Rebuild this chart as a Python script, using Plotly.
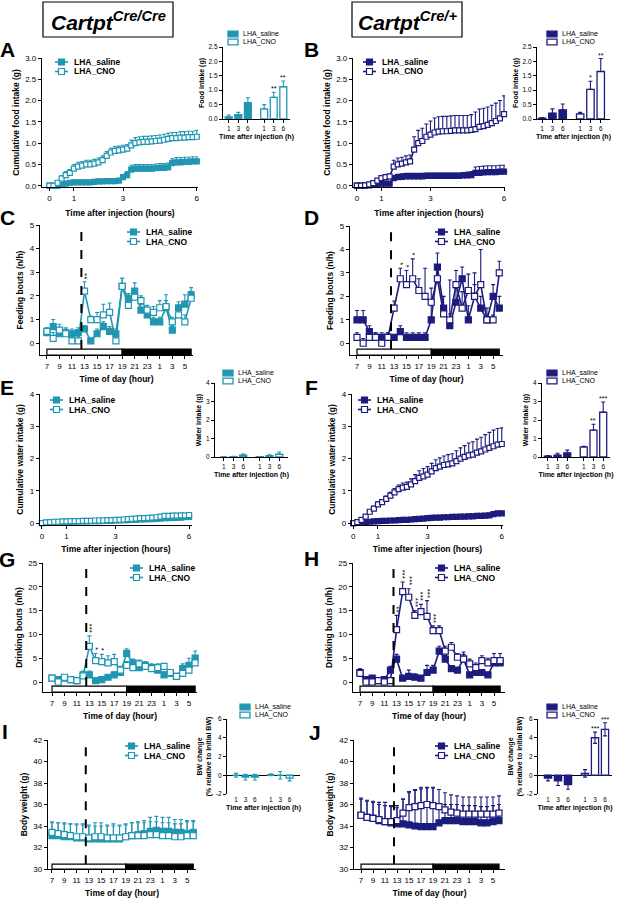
import plotly.graph_objects as go

W, H = 617, 899
TEAL = "#2196b2"
NAVY = "#1c1b7e"
FONT = "Arial, Liberation Sans, sans-serif"

# ---------------- data ----------------
# cumulative intake, sampled every 10 min for 6 h
cum_time = [i / 6 for i in range(37)]
cum_ticks = [0, 1, 3, 6]

A_sal = [0, 0, 0, 0.02, 0.05, 0.07, 0.08, 0.08, 0.08, 0.08,
         0.08, 0.09, 0.1, 0.1, 0.11, 0.11, 0.11, 0.12, 0.2, 0.25,
         0.38, 0.4, 0.4, 0.4, 0.4, 0.4, 0.41, 0.42, 0.42, 0.43,
         0.53, 0.55, 0.55, 0.56, 0.56, 0.57, 0.57]
A_sal_err = [0, 0, 0, 0.01, 0.02, 0.02, 0.03, 0.03, 0.03, 0.03,
             0.03, 0.03, 0.03, 0.03, 0.03, 0.03, 0.03, 0.04, 0.06, 0.08,
             0.1, 0.1, 0.1, 0.1, 0.1, 0.1, 0.1, 0.1, 0.1, 0.1,
             0.1, 0.11, 0.11, 0.11, 0.11, 0.11, 0.11]
A_cno = [0, 0, 0.07, 0.17, 0.25, 0.3, 0.4, 0.45, 0.47, 0.5,
         0.5, 0.52, 0.55, 0.6, 0.7, 0.78, 0.82, 0.83, 0.85, 0.87,
         0.95, 1.0, 1.02, 1.03, 1.03, 1.04, 1.05, 1.06, 1.08, 1.1,
         1.12, 1.12, 1.13, 1.13, 1.14, 1.14, 1.15]
A_cno_err = [0, 0.03, 0.05, 0.07, 0.08, 0.08, 0.1, 0.1, 0.1, 0.1,
             0.1, 0.1, 0.1, 0.1, 0.1, 0.1, 0.1, 0.1, 0.1, 0.1,
             0.12, 0.13, 0.13, 0.13, 0.13, 0.13, 0.13, 0.13, 0.13, 0.13,
             0.13, 0.13, 0.14, 0.14, 0.14, 0.14, 0.15]

B_sal = [0, 0, 0, 0.01, 0.02, 0.03, 0.05, 0.05, 0.05, 0.18,
         0.2, 0.21, 0.22, 0.22, 0.22, 0.22, 0.22, 0.23, 0.23, 0.23,
         0.23, 0.23, 0.23, 0.23, 0.23, 0.23, 0.24, 0.24, 0.25, 0.3,
         0.3, 0.31, 0.32, 0.32, 0.32, 0.33, 0.33]
B_sal_err = [0, 0, 0, 0.01, 0.01, 0.02, 0.03, 0.03, 0.03, 0.06,
             0.07, 0.07, 0.07, 0.07, 0.07, 0.07, 0.07, 0.07, 0.07, 0.07,
             0.07, 0.07, 0.07, 0.07, 0.07, 0.07, 0.07, 0.08, 0.08, 0.14,
             0.15, 0.15, 0.15, 0.15, 0.15, 0.15, 0.15]
B_cno = [0, 0, 0.01, 0.03, 0.06, 0.12, 0.18, 0.2, 0.22, 0.45,
         0.5, 0.52, 0.55, 0.57, 0.85, 1.0, 1.05, 1.15, 1.2, 1.25,
         1.27, 1.28, 1.28, 1.29, 1.3, 1.3, 1.3, 1.3, 1.31, 1.33,
         1.38, 1.4, 1.43, 1.47, 1.52, 1.58, 1.68]
B_cno_err = [0, 0, 0.01, 0.02, 0.03, 0.04, 0.05, 0.05, 0.05, 0.15,
             0.15, 0.15, 0.15, 0.15, 0.3, 0.3, 0.3, 0.3, 0.32, 0.34,
             0.35, 0.35, 0.35, 0.35, 0.35, 0.35, 0.35, 0.35, 0.36, 0.4,
             0.42, 0.42, 0.42, 0.42, 0.42, 0.42, 0.43]

E_sal = [0, 0.01, 0.02, 0.02, 0.03, 0.03, 0.04, 0.04, 0.04, 0.05,
         0.05, 0.05, 0.06, 0.06, 0.06, 0.07, 0.07, 0.07, 0.08, 0.08,
         0.09, 0.09, 0.1, 0.1, 0.11, 0.11, 0.12, 0.12, 0.13, 0.14,
         0.15, 0.15, 0.16, 0.16, 0.17, 0.18, 0.19]
E_sal_err = [0, 0.01, 0.01, 0.01, 0.01, 0.01, 0.01, 0.01, 0.01, 0.01,
             0.01, 0.01, 0.01, 0.01, 0.01, 0.02, 0.02, 0.02, 0.02, 0.02,
             0.02, 0.02, 0.02, 0.02, 0.02, 0.02, 0.02, 0.03, 0.03, 0.03,
             0.03, 0.03, 0.03, 0.03, 0.03, 0.03, 0.04]
E_cno = [0, 0.02, 0.03, 0.04, 0.04, 0.05, 0.05, 0.06, 0.06, 0.06,
         0.07, 0.07, 0.07, 0.08, 0.08, 0.08, 0.09, 0.09, 0.1, 0.1,
         0.11, 0.12, 0.13, 0.14, 0.15, 0.15, 0.16, 0.17, 0.18, 0.2,
         0.22, 0.22, 0.23, 0.23, 0.24, 0.24, 0.25]
E_cno_err = [0, 0.01, 0.01, 0.01, 0.01, 0.01, 0.02, 0.02, 0.02, 0.02,
             0.02, 0.02, 0.02, 0.02, 0.02, 0.02, 0.02, 0.02, 0.02, 0.03,
             0.03, 0.03, 0.03, 0.03, 0.03, 0.03, 0.03, 0.03, 0.04, 0.04,
             0.05, 0.05, 0.05, 0.05, 0.05, 0.05, 0.05]

F_sal = [0, 0.01, 0.02, 0.03, 0.04, 0.05, 0.06, 0.07, 0.07, 0.08,
         0.08, 0.09, 0.1, 0.1, 0.11, 0.12, 0.13, 0.14, 0.15, 0.16,
         0.17, 0.17, 0.18, 0.18, 0.19, 0.19, 0.2, 0.2, 0.21, 0.21,
         0.22, 0.22, 0.23, 0.24, 0.28, 0.3, 0.3]
F_sal_err = [0, 0.01, 0.01, 0.01, 0.01, 0.01, 0.02, 0.02, 0.02, 0.02,
             0.02, 0.02, 0.02, 0.02, 0.02, 0.03, 0.03, 0.03, 0.03, 0.03,
             0.03, 0.03, 0.03, 0.03, 0.03, 0.03, 0.03, 0.04, 0.04, 0.04,
             0.04, 0.04, 0.04, 0.05, 0.06, 0.06, 0.06]
F_cno = [0, 0.03, 0.1, 0.2, 0.35, 0.45, 0.58, 0.65, 0.75, 0.85,
         0.95, 1.05, 1.1, 1.12, 1.2, 1.3, 1.4, 1.45, 1.5, 1.6,
         1.7, 1.75, 1.8, 1.82, 1.85, 1.92, 2.0, 2.05, 2.1, 2.12,
         2.18, 2.22, 2.28, 2.33, 2.38, 2.43, 2.45]
F_cno_err = [0, 0.02, 0.04, 0.05, 0.06, 0.07, 0.08, 0.08, 0.09, 0.1,
             0.12, 0.13, 0.14, 0.15, 0.17, 0.2, 0.22, 0.24, 0.25, 0.25,
             0.26, 0.27, 0.28, 0.3, 0.3, 0.32, 0.33, 0.35, 0.38, 0.4,
             0.42, 0.44, 0.46, 0.48, 0.5, 0.5, 0.5]

# hourly data, 7:00 -> 6:00
hours_of_day = [7, 8, 9, 10, 11, 12, 13, 14, 15, 16, 17, 18,
                19, 20, 21, 22, 23, 0, 1, 2, 3, 4, 5, 6]
lights_off_hour = 19
injection_hour = 12.5

C_sal = [0.45, 0.7, 0.4, 0.45, 0.4, 0.45, 0.6, 0.1, 0.4, 0.7, 0.5, 0.4,
         2.4, 1.9, 2.2, 1.4, 1.2, 0.9, 0.9, 1.5, 0.55, 1.5, 1.65, 2.05]
C_sal_err = [0.2, 0.3, 0.2, 0.2, 0.2, 0.2, 0.15, 0.1, 0.2, 0.2, 0.2, 0.2,
             0.35, 0.2, 0.35, 0.25, 0.2, 0.2, 0.2, 0.3, 0.25, 0.25, 0.4, 0.3]
C_cno = [0.5, 0.2, 0.55, 0.4, 0.1, 0.1, 2.2, 1.0, 1.0, 1.2, 1.3, 0.1,
         2.4, 1.6, 1.95, 1.8, 1.4, 1.3, 1.5, 1.55, 0.9, 1.2, 0.9, 1.9]
C_cno_err = [0.15, 0.25, 0.25, 0.2, 0.2, 0.2, 0.4, 0.15, 0.3, 0.45, 0.4, 0.15,
             0.35, 0.2, 0.2, 0.2, 0.2, 0.25, 0.3, 0.5, 0.2, 0.25, 0.3, 0.3]
C_stars = {6: "**"}

D_sal = [1.0, 1.0, 0.5, 0.25, 0.25, 0.25, 0.25, 0.5, 0.25, 0.25, 0.25, 0.25,
         1.0, 3.25, 1.5, 0.75, 1.75, 2.75, 1.0, 2.0, 1.5, 1.0, 2.0, 1.5]
D_sal_err = [0.4, 0.4, 0.25, 0.2, 0.2, 0.2, 0.1, 0.25, 0.2, 0.2, 0.2, 0.2,
             0.6, 0.6, 0.5, 0.5, 0.6, 0.5, 0.6, 0.5, 0.5, 0.5, 0.5, 0.5]
D_cno = [0.25, 0.0, 0.25, 0.25, 0.0, 0.25, 1.5, 2.75, 2.5, 2.75, 2.25, 2.0,
         1.75, 2.75, 1.25, 1.0, 2.5, 1.5, 2.25, 2.0, 2.5, 1.0, 1.0, 3.0]
D_cno_err = [0.2, 0.2, 0.2, 0.2, 0.2, 0.2, 0.3, 0.45, 0.6, 0.85, 0.5, 1.2,
             0.6, 0.6, 0.3, 1.7, 0.6, 0.7, 0.7, 1.0, 1.5, 0.2, 0.2, 0.5]
D_stars = {7: "*", 8: "*", 9: "*"}

G_sal = [0.8, 0.5, 0.8, 0.5, 0.3, 1.5, 1.5, 0.3, 0.5, 1.0, 1.5, 2.0,
         6.0, 4.0, 3.0, 3.5, 3.0, 2.5, 1.5, 1.8, 1.2, 2.8, 3.5, 5.0]
G_sal_err = [0.5, 0.5, 0.5, 0.3, 0.3, 0.8, 0.8, 0.3, 0.4, 0.5, 0.6, 0.8,
             1.0, 0.8, 0.8, 0.8, 0.8, 0.8, 0.6, 0.6, 0.6, 1.0, 1.5, 1.5]
G_cno = [0.8, 0.0, 1.0, 0.5, 0.3, 1.3, 7.5, 4.5, 4.3, 4.0, 4.3, 2.5,
         3.5, 3.0, 3.8, 3.3, 2.8, 3.0, 3.3, 2.0, 1.2, 1.8, 2.5, 4.0]
G_cno_err = [0.5, 0.5, 0.5, 0.3, 0.3, 0.5, 2.2, 1.5, 1.5, 1.5, 1.5, 0.8,
             0.8, 0.8, 0.8, 0.8, 0.6, 0.8, 0.6, 0.6, 0.6, 0.8, 1.0, 1.0]
G_stars = {6: "***", 7: "*", 8: "*"}

H_sal = [2.0, 0.5, 0.8, 0.3, 0.5, 2.5, 4.8, 0.8, 1.2, 1.0, 0.8, 2.0,
         2.5, 6.5, 4.8, 2.8, 2.5, 4.8, 1.5, 2.0, 2.0, 1.5, 4.0, 4.0]
H_sal_err = [0.8, 0.5, 0.5, 0.3, 0.5, 0.8, 1.0, 0.5, 1.3, 0.7, 0.5, 1.5,
             1.0, 1.0, 0.8, 0.5, 0.5, 1.5, 0.5, 0.5, 0.5, 0.5, 1.0, 1.0]
H_cno = [1.8, 0.0, 0.0, 0.3, 0.0, 0.3, 11.0, 19.0, 17.8, 14.0, 14.8, 13.8,
         10.8, 10.8, 6.5, 7.3, 5.2, 4.8, 3.8, 3.0, 4.5, 4.0, 4.5, 4.5]
H_cno_err = [1.0, 0.3, 0.3, 0.3, 0.3, 0.3, 3.0, 2.0, 1.8, 1.0, 1.5, 3.3,
             1.0, 1.0, 1.0, 1.0, 0.8, 1.0, 1.0, 1.0, 1.0, 1.0, 1.5, 1.5]
H_stars = {6: "**", 7: "***", 8: "***", 9: "***", 10: "***", 11: "***", 12: "***"}

I_sal = [33.1, 33.1, 33.0, 33.0, 32.9, 32.9, 32.8, 32.8, 32.8, 32.8, 32.8, 32.8,
         33.0, 33.1, 33.2, 33.3, 33.5, 33.6, 33.5, 33.5, 33.4, 33.4, 33.3, 33.4]
I_sal_err = [1.2, 1.2, 1.2, 1.2, 1.2, 1.2, 1.2, 1.2, 1.2, 1.2, 1.2, 1.2,
             1.2, 1.2, 1.2, 1.2, 1.3, 1.3, 1.3, 1.3, 1.2, 1.2, 1.2, 1.1]
I_cno = [33.4, 33.3, 33.2, 33.1, 33.0, 33.0, 32.9, 33.0, 33.0, 32.9, 32.9, 32.9,
         33.0, 33.1, 33.1, 33.1, 33.2, 33.2, 33.1, 33.1, 33.0, 33.0, 33.1, 33.1]
I_cno_err = [1.0, 1.0, 1.1, 1.1, 1.2, 1.2, 1.2, 1.3, 1.3, 1.2, 1.3, 1.2,
             1.1, 1.2, 1.2, 1.2, 1.2, 1.2, 1.2, 1.2, 1.2, 1.2, 1.3, 1.3]

J_sal = [35.0, 34.8, 34.7, 34.5, 34.4, 34.3, 34.2, 34.2, 34.1, 34.0, 33.95, 33.95,
         33.95, 34.3, 34.5, 34.5, 34.5, 34.4, 34.4, 34.4, 34.3, 34.3, 34.4, 34.5]
J_sal_err = [1.5, 1.5, 1.5, 1.5, 1.5, 1.5, 1.5, 2.3, 3.0, 3.3, 3.5, 3.6,
             3.6, 1.5, 1.5, 1.5, 1.5, 1.5, 1.5, 1.5, 1.5, 1.5, 1.5, 1.5]
J_cno = [35.0, 34.8, 34.7, 34.6, 34.4, 34.4, 34.5, 35.2, 35.7, 35.8, 35.9, 36.0,
         35.9, 35.8, 35.5, 35.3, 35.2, 35.1, 35.1, 35.1, 35.1, 35.1, 35.1, 35.2]
J_cno_err = [1.6, 1.6, 1.6, 1.6, 1.8, 1.5, 1.4, 1.3, 1.5, 1.6, 1.7, 1.6,
             1.7, 1.6, 1.6, 1.6, 1.6, 1.6, 1.6, 1.6, 1.6, 1.6, 1.6, 1.6]

# insets: 1, 3, 6 h after injection
inset_hours = ["1", "3", "6"]
A_bar_sal, A_bar_sal_err = [0.07, 0.15, 0.57], [0.07, 0.08, 0.17]
A_bar_cno, A_bar_cno_err = [0.35, 0.75, 1.12], [0.15, 0.18, 0.2]
A_bar_stars = ["", "**", "**"]
B_bar_sal, B_bar_sal_err = [0.03, 0.2, 0.32], [0.02, 0.15, 0.2]
B_bar_cno, B_bar_cno_err = [0.18, 1.03, 1.65], [0.05, 0.28, 0.45]
B_bar_stars = ["", "*", "**"]
E_bar_sal, E_bar_sal_err = [0.0, 0.02, 0.1], [0.01, 0.02, 0.06]
E_bar_cno, E_bar_cno_err = [0.02, 0.07, 0.15], [0.01, 0.05, 0.12]
E_bar_stars = ["", "", ""]
F_bar_sal, F_bar_sal_err = [0.05, 0.1, 0.22], [0.03, 0.1, 0.15]
F_bar_cno, F_bar_cno_err = [0.55, 1.45, 2.42], [0.03, 0.32, 0.55]
F_bar_stars = ["", "**", "***"]
I_bar_sal, I_bar_sal_err = [0.0, -0.2, -0.2], [0.2, 0.3, 0.3]
I_bar_cno, I_bar_cno_err = [0.05, 0.0, -0.3], [0.1, 0.4, 0.3]
I_bar_stars = ["", "", ""]
J_bar_sal, J_bar_sal_err = [-0.3, -0.6, -1.0], [0.3, 0.5, 0.5]
J_bar_cno, J_bar_cno_err = [0.2, 4.0, 4.9], [0.4, 0.6, 0.7]
J_bar_stars = ["", "***", "***"]

# ---------------- figure ----------------
fig = go.Figure()
shapes = []
annots = []
n_axes = [0]


def px(x):
    return x / W


def py(y):
    return 1 - y / H


def fmt_ticks(vals, digits=0):
    return [vals, [f"{v:.{digits}f}" for v in vals]]


def add_axes(xpx, ypx, xr, yr, xticks, yticks, xtitle, ytitle,
             tick_size=8, title_size=8.5, xstand=6, ystand=4):
    n_axes[0] += 1
    k = "" if n_axes[0] == 1 else str(n_axes[0])
    base = dict(showline=True, linecolor="black", linewidth=1.3, ticks="outside",
                ticklen=3, tickwidth=1.2, tickcolor="black", showgrid=False,
                zeroline=False, fixedrange=True, automargin=False,
                tickfont=dict(size=tick_size, color="black", family=FONT))
    xa = dict(base, domain=[px(xpx[0]), px(xpx[1])], range=xr, anchor="y" + k,
              tickvals=xticks[0], ticktext=xticks[1],
              title=dict(text=f"<b>{xtitle}</b>", standoff=xstand,
                         font=dict(size=title_size, color="black", family=FONT)))
    ya = dict(base, domain=[py(ypx[1]), py(ypx[0])], range=yr, anchor="x" + k,
              tickvals=yticks[0], ticktext=yticks[1],
              title=dict(text=f"<b>{ytitle}</b>", standoff=ystand,
                         font=dict(size=title_size, color="black", family=FONT)))
    fig.update_layout(**{"xaxis" + k: xa, "yaxis" + k: ya})
    return "x" + k, "y" + k


def add_lines(xa, ya, x, sal, sal_err, cno, cno_err, color, msize):
    for y, err, filled in ((sal, sal_err, True), (cno, cno_err, False)):
        fig.add_trace(go.Scatter(
            x=x, y=y, xaxis=xa, yaxis=ya, mode="lines+markers", showlegend=False,
            line=dict(color=color, width=1.6), cliponaxis=False,
            marker=dict(symbol="square", size=msize,
                        color=color if filled else "white",
                        line=dict(color=color, width=1.2)),
            error_y=dict(type="data", array=err, arrayminus=[0] * len(err),
                         symmetric=False, color=color, thickness=1.1, width=2)))


def add_bars(xa, ya, sal, sal_err, cno, cno_err, stars, color, two_sided=False):
    sal_pos = [0, 1, 2]
    cno_pos = [3.7, 4.7, 5.7]
    for pos, y, err, filled in ((sal_pos, sal, sal_err, True), (cno_pos, cno, cno_err, False)):
        if two_sided:
            ebar = dict(type="data", array=err, symmetric=True)
        else:
            ebar = dict(type="data", array=err, arrayminus=[0] * len(err), symmetric=False)
        ebar.update(color=color, thickness=1.1, width=2)
        fig.add_trace(go.Bar(
            x=pos, y=y, xaxis=xa, yaxis=ya, width=0.72, showlegend=False,
            marker=dict(color=color if filled else "white", line=dict(color=color, width=1.3)),
            error_y=ebar, cliponaxis=False))
    for p, v, e, s in zip(cno_pos, cno, cno_err, stars):
        if s:
            annots.append(dict(xref=xa, yref=ya, x=p, y=v + e, text=s, showarrow=False,
                               yanchor="bottom", yshift=-2, font=dict(size=7, color="black")))
    return [sal_pos + cno_pos, inset_hours + inset_hours]


def day_night(xa, ya, lo, hi, top):
    start = 0
    off = hours_of_day.index(lights_off_hour)
    end = len(hours_of_day) - 1
    inj = hours_of_day.index(int(injection_hour)) + (injection_hour - int(injection_hour))
    shapes.append(dict(type="rect", xref=xa, yref=ya, x0=start, x1=off, y0=lo, y1=hi,
                       fillcolor="white", line=dict(color="black", width=1.2)))
    shapes.append(dict(type="rect", xref=xa, yref=ya, x0=off, x1=end, y0=lo, y1=hi,
                       fillcolor="black", line=dict(color="black", width=1.2)))
    shapes.append(dict(type="line", xref=xa, yref=ya, x0=inj, x1=inj, y0=hi, y1=top,
                       line=dict(color="black", width=2, dash="dash")))


def hourly_stars(xa, ya, cno, cno_err, stars, gap):
    for i, s in stars.items():
        annots.append(dict(xref=xa, yref=ya, x=i, y=cno[i] + cno_err[i] + gap,
                           text=s, showarrow=False, textangle=90, yanchor="bottom",
                           font=dict(size=8, color="black")))


def line_legend(x0, y0, color, dy=9.5):
    for i, (label, filled) in enumerate((("LHA_saline", True), ("LHA_CNO", False))):
        y = y0 + i * dy
        shapes.append(dict(type="line", xref="paper", yref="paper", x0=px(x0), x1=px(x0 + 13),
                           y0=py(y), y1=py(y), line=dict(color=color, width=1.6)))
        shapes.append(dict(type="rect", xref="paper", yref="paper", x0=px(x0 + 3.5), x1=px(x0 + 9.5),
                           y0=py(y + 3), y1=py(y - 3), fillcolor=color if filled else "white",
                           line=dict(color=color, width=1.2)))
        annots.append(dict(xref="paper", yref="paper", x=px(x0 + 17), y=py(y), text=f"<b>{label}</b>",
                           showarrow=False, xanchor="left", yanchor="middle",
                           font=dict(size=8.5, color="black")))


def bar_legend(x0, y0, color, dy=8):
    for i, (label, filled) in enumerate((("LHA_saline", True), ("LHA_CNO", False))):
        y = y0 + i * dy
        shapes.append(dict(type="rect", xref="paper", yref="paper", x0=px(x0), x1=px(x0 + 10),
                           y0=py(y + 2.8), y1=py(y - 2.8), fillcolor=color if filled else "white",
                           line=dict(color=color, width=1.3)))
        annots.append(dict(xref="paper", yref="paper", x=px(x0 + 13), y=py(y), text=label,
                           showarrow=False, xanchor="left", yanchor="middle",
                           font=dict(size=7, color="black")))


def letter(ch, x, y):
    annots.append(dict(xref="paper", yref="paper", x=px(x), y=py(y), text=f"<b>{ch}</b>",
                       showarrow=False, xanchor="center", yanchor="middle",
                       font=dict(size=21, color="black")))


hour_ticks = [list(range(0, 24, 2)), [str(h) for h in hours_of_day[::2]]]
cum_xticks = [cum_ticks, [str(t) for t in cum_ticks]]

# ---- A ----
xa, ya = add_axes((42, 198), (58, 187), [-0.3, 6.05], [-0.03, 3.0], cum_xticks,
                  fmt_ticks([0, 0.5, 1.0, 1.5, 2.0, 2.5, 3.0], 1),
                  "Time after injection (hours)", "Cumulative food intake (g)", xstand=8)
add_lines(xa, ya, cum_time, A_sal, A_sal_err, A_cno, A_cno_err, TEAL, 5)
line_legend(55, 62, TEAL)
# ---- A inset ----
xa, ya = add_axes((223, 290), (47, 119), [-0.6, 6.4], [0, 2.5], [[], []],
                  fmt_ticks([0, 0.5, 1.0, 1.5, 2.0, 2.5], 1),
                  "Time after injection (h)", "Food intake (g)", tick_size=6.5, title_size=7, xstand=3, ystand=3)
tk = add_bars(xa, ya, A_bar_sal, A_bar_sal_err, A_bar_cno, A_bar_cno_err, A_bar_stars, TEAL)
fig.update_layout(xaxis2=dict(tickvals=tk[0], ticktext=tk[1]))
bar_legend(228, 34, TEAL)

# ---- B ----
xa, ya = add_axes((353, 505), (58, 187), [-0.16, 6.04], [-0.03, 3.0], cum_xticks,
                  fmt_ticks([0, 0.5, 1.0, 1.5, 2.0, 2.5, 3.0], 1),
                  "Time after injection (hours)", "Cumulative food intake (g)", xstand=8)
add_lines(xa, ya, cum_time, B_sal, B_sal_err, B_cno, B_cno_err, NAVY, 5)
line_legend(363, 62, NAVY)
xa, ya = add_axes((537, 610), (47, 119), [-0.5, 6.6], [0, 2.5], [[], []],
                  fmt_ticks([0, 0.5, 1.0, 1.5, 2.0, 2.5], 1),
                  "Time after injection (h)", "Food intake (g)", tick_size=6.5, title_size=7, xstand=3, ystand=3)
tk = add_bars(xa, ya, B_bar_sal, B_bar_sal_err, B_bar_cno, B_bar_cno_err, B_bar_stars, NAVY)
fig.update_layout(xaxis4=dict(tickvals=tk[0], ticktext=tk[1]))
bar_legend(547, 34, NAVY)

# ---- C ----
hx = list(range(len(hours_of_day)))
xa, ya = add_axes((40, 193), (225, 355), [-1.1, 23.3], [-0.5, 5], hour_ticks,
                  fmt_ticks([0, 1, 2, 3, 4, 5]), "Time of day (hour)", "Feeding bouts (n/h)")
day_night(xa, ya, -0.5, -0.25, 5)
add_lines(xa, ya, hx, C_sal, C_sal_err, C_cno, C_cno_err, TEAL, 6)
hourly_stars(xa, ya, C_cno, C_cno_err, C_stars, 0.05)
line_legend(127, 232, TEAL)

# ---- D ----
xa, ya = add_axes((350, 503), (226, 355), [-1.13, 23.6], [-0.5, 5], hour_ticks,
                  fmt_ticks([0, 1, 2, 3, 4, 5]), "Time of day (hour)", "Feeding bouts (n/h)")
day_night(xa, ya, -0.5, -0.25, 5)
add_lines(xa, ya, hx, D_sal, D_sal_err, D_cno, D_cno_err, NAVY, 6)
hourly_stars(xa, ya, D_cno, D_cno_err, D_stars, 0.05)
line_legend(435, 232, NAVY)

# ---- E ----
xa, ya = add_axes((40, 192), (394, 525), [-0.08, 6.12], [-0.06, 4], cum_xticks,
                  fmt_ticks([0, 1, 2, 3, 4]), "Time after injection (hours)", "Cumulative water intake (g)")
add_lines(xa, ya, cum_time, E_sal, E_sal_err, E_cno, E_cno_err, TEAL, 5)
line_legend(50, 400, TEAL)
xa, ya = add_axes((215, 288), (383, 457), [-0.9, 6.6], [0, 4], [[], []],
                  fmt_ticks([0, 1, 2, 3, 4]), "Time after injection (h)", "Water intake (g)",
                  tick_size=6.5, title_size=7, xstand=3, ystand=3)
tk = add_bars(xa, ya, E_bar_sal, E_bar_sal_err, E_bar_cno, E_bar_cno_err, E_bar_stars, TEAL)
fig.update_layout(xaxis8=dict(tickvals=tk[0], ticktext=tk[1]))
bar_legend(223, 373, TEAL)

# ---- F ----
xa, ya = add_axes((352, 503), (394, 525), [-0.05, 6.05], [-0.06, 4], cum_xticks,
                  fmt_ticks([0, 1, 2, 3, 4]), "Time after injection (hours)", "Cumulative water intake (g)")
add_lines(xa, ya, cum_time, F_sal, F_sal_err, F_cno, F_cno_err, NAVY, 5)
line_legend(358, 400, NAVY)
xa, ya = add_axes((542, 610), (383, 457), [-0.6, 6.4], [0, 4], [[], []],
                  fmt_ticks([0, 1, 2, 3, 4]), "Time after injection (h)", "Water intake (g)",
                  tick_size=6.5, title_size=7, xstand=3, ystand=3)
tk = add_bars(xa, ya, F_bar_sal, F_bar_sal_err, F_bar_cno, F_bar_cno_err, F_bar_stars, NAVY)
fig.update_layout(xaxis10=dict(tickvals=tk[0], ticktext=tk[1]))
bar_legend(547, 373, NAVY)

# ---- G ----
xa, ya = add_axes((43, 197), (563, 692), [-1.45, 23.3], [-2.1, 25], hour_ticks,
                  fmt_ticks([0, 5, 10, 15, 20, 25]), "Time of day (hour)", "Drinking bouts (n/h)")
day_night(xa, ya, -2.1, -0.85, 25)
add_lines(xa, ya, hx, G_sal, G_sal_err, G_cno, G_cno_err, TEAL, 6)
hourly_stars(xa, ya, G_cno, G_cno_err, G_stars, 0.3)
line_legend(130, 568, TEAL)

# ---- H ----
xa, ya = add_axes((353, 505), (563, 692), [-1.15, 23.8], [-2.1, 25], hour_ticks,
                  fmt_ticks([0, 5, 10, 15, 20, 25]), "Time of day (hour)", "Drinking bouts (n/h)")
day_night(xa, ya, -2.1, -0.85, 25)
add_lines(xa, ya, hx, H_sal, H_sal_err, H_cno, H_cno_err, NAVY, 6)
hourly_stars(xa, ya, H_cno, H_cno_err, H_stars, 0.3)
line_legend(435, 568, NAVY)

# ---- I ----
xa, ya = add_axes((48, 196), (740, 869), [-0.65, 23.45], [30, 42], hour_ticks,
                  fmt_ticks([30, 32, 34, 36, 38, 40, 42]), "Time of day (hour)", "Body weight (g)")
day_night(xa, ya, 30, 30.45, 42)
add_lines(xa, ya, hx, I_sal, I_sal_err, I_cno, I_cno_err, TEAL, 6)
line_legend(125, 746, TEAL)
xa, ya = add_axes((227, 300), (719, 794), [-0.96, 6.8], [-2, 6], [[], []],
                  fmt_ticks([-2, 0, 2, 4, 6]), "Time after injection (h)",
                  "BW change<br>(% relative to initial BW)", tick_size=6.5, title_size=7, xstand=3, ystand=3)
tk = add_bars(xa, ya, I_bar_sal, I_bar_sal_err, I_bar_cno, I_bar_cno_err, I_bar_stars, TEAL, two_sided=True)
fig.update_layout(xaxis14=dict(tickvals=tk[0], ticktext=tk[1], showline=False, ticks=""),
                  yaxis14=dict(zeroline=True, zerolinecolor="black", zerolinewidth=1.4))
bar_legend(240, 707, TEAL)

# ---- J ----
xa, ya = add_axes((354, 505), (740, 869), [-1.17, 24], [30, 42], hour_ticks,
                  fmt_ticks([30, 32, 34, 36, 38, 40, 42]), "Time of day (hour)", "Body weight (g)")
day_night(xa, ya, 30, 30.45, 42)
add_lines(xa, ya, hx, J_sal, J_sal_err, J_cno, J_cno_err, NAVY, 6)
line_legend(435, 746, NAVY)
xa, ya = add_axes((538, 612), (719, 794), [-1.0, 6.4], [-2, 6], [[], []],
                  fmt_ticks([-2, 0, 2, 4, 6]), "Time after injection (h)",
                  "BW change<br>(% relative to initial BW)", tick_size=6.5, title_size=7, xstand=3, ystand=3)
tk = add_bars(xa, ya, J_bar_sal, J_bar_sal_err, J_bar_cno, J_bar_cno_err, J_bar_stars, NAVY, two_sided=True)
fig.update_layout(xaxis16=dict(tickvals=tk[0], ticktext=tk[1], showline=False, ticks=""),
                  yaxis16=dict(zeroline=True, zerolinecolor="black", zerolinewidth=1.4))
bar_legend(547, 707, NAVY)

# ---- headers and panel letters ----
for (x0, x1), sup in (((43, 173), "Cre/Cre"), ((352, 462), "Cre/+")):
    shapes.append(dict(type="rect", xref="paper", yref="paper", x0=px(x0), x1=px(x1),
                       y0=py(37), y1=py(2), line=dict(color="black", width=1.2)))
    annots.append(dict(xref="paper", yref="paper", x=px((x0 + x1) / 2), y=py(21),
                       text=f"<b><i>Cartpt<sup>{sup}</sup></i></b>", showarrow=False,
                       xanchor="center", yanchor="middle", font=dict(size=21, color="black")))

for ch, x, y in (("A", 7, 49), ("B", 311, 49), ("C", 7, 218), ("D", 311, 217),
                 ("E", 7, 387), ("F", 311, 387), ("G", 7, 559), ("H", 311, 558),
                 ("I", 5, 731), ("J", 315, 732)):
    letter(ch, x, y)

fig.update_layout(
    width=W, height=H, margin=dict(l=0, r=0, t=0, b=0),
    paper_bgcolor="white", plot_bgcolor="white", barmode="overlay",
    font=dict(family=FONT, color="black"), showlegend=False,
    shapes=shapes, annotations=annots,
)

# the page's default body margin would push the figure off the window
fig.write_html("out.html", config={"displayModeBar": False},
               post_script="document.body.style.margin = '0';")
